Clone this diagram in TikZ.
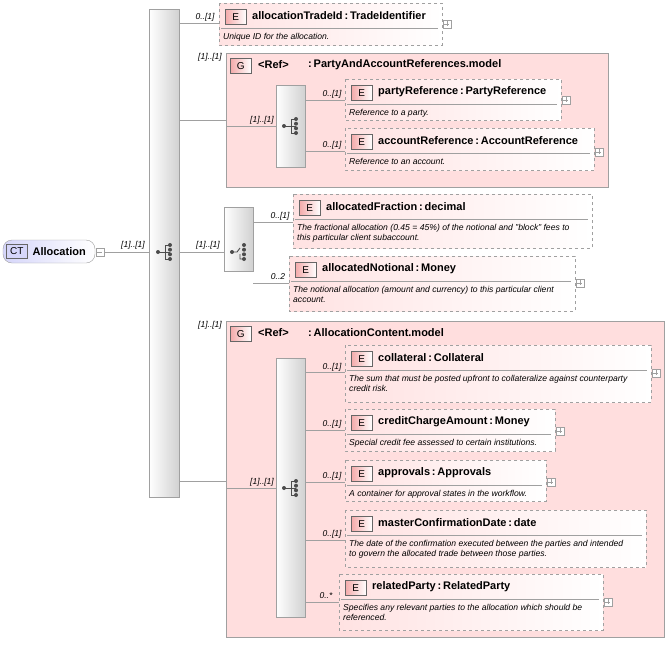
\documentclass[tikz,border=0pt]{standalone}
\usepackage{fontspec}
\setmainfont{Liberation Sans}
\usetikzlibrary{positioning}
\definecolor{elfill}{RGB}{255,226,226}
\definecolor{grfill}{RGB}{255,222,222}
\definecolor{badge}{RGB}{244,170,170}
\definecolor{ctfill}{RGB}{214,214,250}
\definecolor{edgegray}{RGB}{160,160,160}
\tikzset{
  elem/.style={draw=edgegray, dashed, left color=elfill, right color=white, inner sep=0pt},
  group/.style={draw=edgegray, fill=grfill, inner sep=0pt},
  seqbox/.style={draw=edgegray, left color=white, right color=black!18, inner sep=0pt},
  badgebox/.style={draw=black!60, left color=badge, right color=white, minimum width=21pt, minimum height=15pt, inner sep=0pt, font=\fontsize{10}{10}\selectfont},
  title/.style={anchor=west, inner sep=0pt, font=\fontsize{11}{12}\selectfont\bfseries},
  desc/.style={anchor=north west, inner sep=0pt, align=left, font=\fontsize{8.6}{10}\selectfont\itshape},
  card/.style={inner sep=0pt, font=\fontsize{8.5}{8.5}\selectfont\itshape},
  plusbox/.style={draw=edgegray, fill=white, minimum size=8pt, inner sep=0pt},
  conn/.style={draw=edgegray, line width=0.6pt},
}
% element box: name, left, top, right, bottom, title, description
\newcommand{\elbox}[7]{%
  \path[elem] (#2,#3) rectangle (#4,#5);
  \node[badgebox, anchor=north west] (#1E) at (#2+6,#3+6) {E};
  \node[title] (#1) at (#2+33,#3+13) {#6};
  \draw[edgegray] (#2+2,#3+25) -- (#4-4,#3+25);
  \node[desc] (#1D) at (#2+4,#3+30) {#7};
  \coordinate (#1W) at (#2,#3);
}
\newcommand{\plus}[3]{%
  \node[plusbox] (#1) at (#2,#3) {};
  \draw[edgegray] (#1.west) ++(1.5pt,0) -- ++(5pt,0) (#1.north) ++(0,-1.5pt) -- ++(0,-5pt);
}
\newcommand{\seqicon}[2]{%
  \fill[black!70] (#1-7,#2) circle (2pt);
  \draw[black!70, line width=0.9pt] (#1-7,#2) -- (#1,#2) (#1,#2-7) -- (#1,#2+7)
     (#1,#2-7) -- (#1+5,#2-7) (#1,#2) -- (#1+5,#2) (#1,#2+7) -- (#1+5,#2+7);
  \foreach \dy in {-7,-2.3,2.3,7} \fill[black!70] (#1+5,#2+\dy) circle (2pt);
}
\newcommand{\choiceicon}[2]{%
  \fill[black!70] (#1-7,#2) circle (2pt);
  \draw[black!70, line width=0.9pt] (#1-7,#2) -- (#1-2,#2) -- (#1+1,#2-4)
     (#1+1,#2+2) -- (#1+1,#2+7) -- (#1+5,#2+7);
  \foreach \dy in {-7,-2.3,2.3,7} \fill[black!70] (#1+5,#2+\dy) circle (2pt);
}
\begin{document}
\begin{tikzpicture}[x=1pt, y=-1pt]
\useasboundingbox (0,0) rectangle (671,648);

% root
\node[draw=edgegray, rounded corners=9pt, left color=ctfill, right color=white, minimum width=92pt, minimum height=23pt, inner sep=0pt] (root) at (49,251.5) {};
\node[draw=black!60, fill=ctfill, minimum width=21pt, minimum height=14pt, inner sep=0pt, font=\fontsize{10}{10}\selectfont, anchor=west] (rootCT) at (6,251.5) {CT};
\node[title, right=5pt of rootCT] (rootT) {Allocation};
\node[plusbox] (rootm) at (100,252) {};
\draw[edgegray] (rootm.west) ++(1.5pt,0) -- ++(5pt,0);

% main sequence
\path[seqbox] (149,9) rectangle (179,497);
\coordinate (mainL) at (149,252);
\seqicon{165}{252}
\draw[conn] (rootm.east) -- (mainL);
\node[card] at (133,245) {[1]..[1]};

% allocationTradeId
\elbox{tradeId}{219}{3}{442}{45}{allocationTradeId\,:\,TradeIdentifier}{Unique ID for the allocation.}
\plus{tradeIdP}{447}{24}
\coordinate (m1) at (179,23);
\draw[conn] (m1) -- (m1 -| tradeIdW);
\node[card] at (205,17) {0..[1]};

% group PartyAndAccountReferences
\path[group] (226,53) rectangle (608,187);
\node[card] at (210,57) {[1]..[1]};
\node[badgebox, anchor=north west] (g1G) at (230,58) {G};
\node[title] (g1R) at (258,65) {<Ref>};
\node[title] (g1T) at (308,65) {:\,PartyAndAccountReferences.model};
\coordinate (m2) at (179,120);
\coordinate (g1W) at (226,120);
\draw[conn] (m2) -- (g1W);
\path[seqbox] (276,85) rectangle (305,167);
\seqicon{291}{126}
\coordinate (g1in) at (226,126);
\coordinate (s1L) at (276,126);
\draw[conn] (g1in) -- (s1L);
\node[card] at (262,120) {[1]..[1]};
\elbox{partyRef}{345}{79}{561}{120}{partyReference\,:\,PartyReference}{Reference to a party.}
\plus{partyRefP}{566}{100}
\coordinate (s1a) at (305,100);
\draw[conn] (s1a) -- (s1a -| partyRefW);
\node[card] at (332,94) {0..[1]};
\elbox{accRef}{345}{128}{594}{170}{accountReference\,:\,AccountReference}{Reference to an account.}
\plus{accRefP}{599}{152}
\coordinate (s1b) at (305,151);
\draw[conn] (s1b) -- (s1b -| accRefW);
\node[card] at (332,145) {0..[1]};

% choice
\path[seqbox] (224,207) rectangle (253,271);
\choiceicon{239}{252}
\coordinate (mainR) at (179,252);
\coordinate (chL) at (224,252);
\draw[conn] (mainR) -- (chL);
\node[card] at (208,245) {[1]..[1]};
\elbox{fraction}{293}{194}{592}{248}{allocatedFraction\,:\,decimal}{The fractional allocation (0.45 = 45\%) of the notional and "block" fees to\\this particular client subaccount.}
\coordinate (cha) at (253,222);
\draw[conn] (cha) -- (cha -| fractionW);
\node[card] at (280,216) {0..[1]};
\elbox{notional}{289}{256}{575}{311}{allocatedNotional\,:\,Money}{The notional allocation (amount and currency) to this particular client\\account.}
\plus{notionalP}{580}{283}
\coordinate (chb) at (253,283);
\draw[conn] (chb) -- (chb -| notionalW);
\node[card] at (278,277) {0..2};

% group AllocationContent
\path[group] (226,321) rectangle (664,637);
\node[card] at (210,325) {[1]..[1]};
\node[badgebox, anchor=north west] (g2G) at (230,326) {G};
\node[title] (g2R) at (258,333) {<Ref>};
\node[title] (g2T) at (308,333) {:\,AllocationContent.model};
\coordinate (m4) at (179,481);
\coordinate (g2W) at (226,481);
\draw[conn] (m4) -- (g2W);
\path[seqbox] (276,358) rectangle (305,617);
\seqicon{291}{488}
\coordinate (g2in) at (226,488);
\coordinate (s2L) at (276,488);
\draw[conn] (g2in) -- (s2L);
\node[card] at (262,482) {[1]..[1]};

\elbox{coll}{345}{345}{651}{402}{collateral\,:\,Collateral}{The sum that must be posted upfront to collateralize against counterparty\\credit risk.}
\plus{collP}{656}{373}
\coordinate (s2a) at (305,372);
\draw[conn] (s2a) -- (s2a -| collW);
\node[card] at (332,367) {0..[1]};

\elbox{credit}{345}{409}{555}{451}{creditChargeAmount\,:\,Money}{Special credit fee assessed to certain institutions.}
\plus{creditP}{560}{431}
\coordinate (s2b) at (305,430);
\draw[conn] (s2b) -- (s2b -| creditW);
\node[card] at (332,424) {0..[1]};

\elbox{appr}{345}{460}{546}{501}{approvals\,:\,Approvals}{A container for approval states in the workflow.}
\plus{apprP}{551}{482}
\coordinate (s2c) at (305,482);
\draw[conn] (s2c) -- (s2c -| apprW);
\node[card] at (332,476) {0..[1]};

\elbox{master}{345}{510}{646}{567}{masterConfirmationDate\,:\,date}{The date of the confirmation executed between the parties and intended\\to govern the allocated trade between those parties.}
\coordinate (s2d) at (305,540);
\draw[conn] (s2d) -- (s2d -| masterW);
\node[card] at (332,534) {0..[1]};

\elbox{related}{339}{574}{603}{630}{relatedParty\,:\,RelatedParty}{Specifies any relevant parties to the allocation which should be\\referenced.}
\plus{relatedP}{608}{602}
\coordinate (s2e) at (305,602);
\draw[conn] (s2e) -- (s2e -| relatedW);
\node[card] at (326,596) {0..*};
\end{tikzpicture}
\end{document}
